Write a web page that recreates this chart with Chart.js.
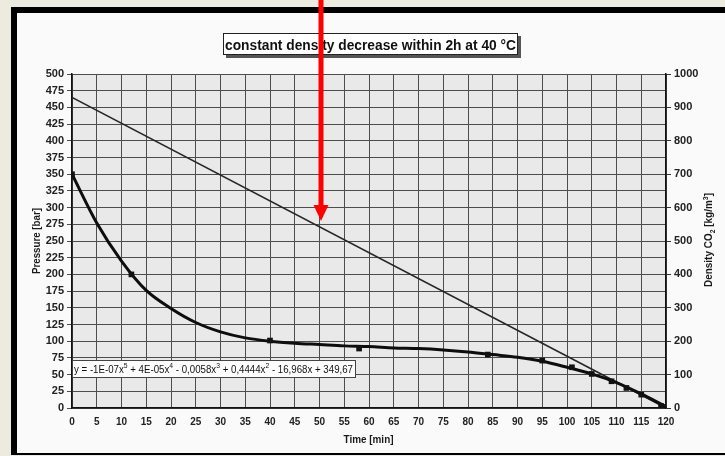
<!DOCTYPE html>
<html>
<head>
  <title>constant density decrease within 2h at 40 °C</title>
  <script src="https://cdn.jsdelivr.net/npm/chart.js@4"></script>
  <style>
    html, body { margin: 0; padding: 0; background: #edeae0; }
    #wrap { position: relative; width: 725px; height: 456px; }
  </style>
</head>
<body>
  <div id="wrap"><canvas id="chart" width="725" height="456"></canvas></div>
  <script>
    // trend line (pressure, bar) every 5 min
    var trendMinutes = [0, 5, 10, 15, 20, 25, 30, 35, 40, 45, 50, 55, 60, 65, 70, 75, 80, 85, 90, 95, 100, 105, 110, 115, 120];
    var trendPressure = [350, 277, 220, 176, 149, 128, 114, 105, 100, 97, 95, 93, 92, 90, 89, 87, 84, 80, 76, 70, 61, 51, 38, 21, 2];

    // measured points (black squares)
    var pointMinutes = [0, 12, 40, 58, 84, 95, 101, 105, 109, 112, 115, 119, 120];
    var pointPressure = [350, 200, 101, 89, 80, 71, 61, 51, 40, 30, 20, 3, 1];

    // CO2 density, straight line
    var densityMinutes = [0, 120];
    var densityValues = [930, 0];

    var FONT = '"Liberation Sans", Arial, sans-serif';

    function pairs(xs, ys) {
      return xs.map(function (x, i) { return { x: x, y: ys[i] }; });
    }

    // draw text made of pieces (normal / sub / sup), squeezed to a width
    function richText(ctx, parts, size, bold, x, y, width, align) {
      var w = 0;
      parts.forEach(function (p) {
        var s = p.t ? size : size * 0.7;
        ctx.font = (bold ? 'bold ' : '') + s + 'px ' + FONT;
        p.w = ctx.measureText(p.s).width;
        w += p.w;
      });
      var k = width ? width / w : 1;
      var start = align === 'center' ? x - w * k / 2 : x;
      ctx.save();
      ctx.translate(start, y);
      ctx.scale(k, 1);
      ctx.textAlign = 'left';
      ctx.textBaseline = 'alphabetic';
      var cx = 0;
      parts.forEach(function (p) {
        var s = p.t ? size : size * 0.7;
        ctx.font = (bold ? 'bold ' : '') + s + 'px ' + FONT;
        var dy = p.t ? 0 : (p.sup ? -size * 0.45 : size * 0.25);
        ctx.fillText(p.s, cx, dy);
        cx += p.w;
      });
      ctx.restore();
    }

    var decor = {
      id: 'decor',
      beforeDraw: function (chart) {
        var ctx = chart.ctx, a = chart.chartArea;
        ctx.save();
        ctx.fillStyle = '#edeae0';
        ctx.fillRect(0, 0, 725, 456);
        ctx.fillStyle = '#000';
        ctx.fillRect(11, 7, 714, 448);
        ctx.fillStyle = '#fafafa';
        ctx.fillRect(17, 13, 708, 440);
        ctx.fillStyle = '#e9e9e9';
        ctx.fillRect(a.left, a.top, a.right - a.left, a.bottom - a.top);
        ctx.restore();
      },
      afterDraw: function (chart) {
        var ctx = chart.ctx;
        ctx.save();

        // title box with shadow
        ctx.fillStyle = '#555';
        ctx.fillRect(226, 36, 295, 22);
        ctx.fillStyle = '#fff';
        ctx.fillRect(223, 33, 295, 22);
        ctx.strokeStyle = '#222';
        ctx.lineWidth = 1;
        ctx.strokeRect(223.5, 33.5, 294, 21);
        ctx.fillStyle = '#111';
        richText(ctx, [{ s: 'constant density decrease within 2h at 40 °C', t: 1 }], 14.5, true, 370.5, 49.5, 291, 'center');

        // equation box
        ctx.fillStyle = '#fdfdfd';
        ctx.fillRect(72, 360, 284, 18);
        ctx.strokeStyle = '#444';
        ctx.strokeRect(72.5, 360.5, 283, 17);
        ctx.fillStyle = '#111';
        richText(ctx, [
          { s: 'y = -1E-07x', t: 1 }, { s: '5', sup: 1 },
          { s: ' + 4E-05x', t: 1 }, { s: '4', sup: 1 },
          { s: ' - 0,0058x', t: 1 }, { s: '3', sup: 1 },
          { s: ' + 0,4444x', t: 1 }, { s: '2', sup: 1 },
          { s: ' - 16,968x + 349,67', t: 1 }
        ], 10.5, false, 74, 373, 279, 'left');

        // axis titles
        ctx.fillStyle = '#1a1a1a';
        richText(ctx, [{ s: 'Time [min]', t: 1 }], 10, true, 368.5, 443, 50, 'center');
        ctx.save();
        ctx.translate(40, 241);
        ctx.rotate(-Math.PI / 2);
        richText(ctx, [{ s: 'Pressure [bar]', t: 1 }], 10, true, 0, 0, 66, 'center');
        ctx.restore();
        ctx.save();
        ctx.translate(712, 240);
        ctx.rotate(-Math.PI / 2);
        richText(ctx, [
          { s: 'Density CO', t: 1 }, { s: '2' },
          { s: ' [kg/m', t: 1 }, { s: '3', sup: 1 }, { s: ']', t: 1 }
        ], 10, true, 0, 0, 94, 'center');
        ctx.restore();

        // red arrow
        ctx.strokeStyle = '#ff0000';
        ctx.fillStyle = '#ff0000';
        ctx.lineWidth = 5;
        ctx.beginPath();
        ctx.moveTo(321, 0);
        ctx.lineTo(321, 207);
        ctx.stroke();
        ctx.beginPath();
        ctx.moveTo(313.5, 205);
        ctx.lineTo(328.5, 205);
        ctx.lineTo(321, 221);
        ctx.closePath();
        ctx.fill();
        ctx.restore();
      }
    };

    var tickFont = { family: FONT, size: 11, weight: 'bold' };
    var plain = function (v) { return String(v); };

    new Chart(document.getElementById('chart'), {
      type: 'scatter',
      data: {
        datasets: [
          {
            label: 'trend',
            data: pairs(trendMinutes, trendPressure),
            showLine: true,
            borderColor: '#0d0d0d',
            borderWidth: 3,
            pointRadius: 0,
            cubicInterpolationMode: 'monotone',
            order: 2,
            yAxisID: 'y'
          },
          {
            label: 'pressure',
            data: pairs(pointMinutes, pointPressure),
            showLine: false,
            pointStyle: 'rect',
            pointRadius: 4,
            backgroundColor: '#111',
            borderColor: '#111',
            borderWidth: 0,
            order: 1,
            yAxisID: 'y'
          },
          {
            label: 'density',
            data: pairs(densityMinutes, densityValues),
            showLine: true,
            borderColor: '#262626',
            borderWidth: 1.6,
            pointRadius: 0,
            order: 3,
            yAxisID: 'y2'
          }
        ]
      },
      options: {
        responsive: false,
        animation: false,
        layout: { padding: { top: 74, left: 0, right: 0, bottom: 0 } },
        plugins: {
          legend: { display: false },
          title: { display: false },
          tooltip: { enabled: false }
        },
        scales: {
          x: {
            type: 'linear',
            min: 0,
            max: 120,
            ticks: { stepSize: 5, color: '#222', font: { family: FONT, size: 10, weight: 'bold' }, padding: 8, callback: plain },
            grid: { color: '#4d4d4d', lineWidth: 1, drawTicks: false },
            border: { color: '#111', width: 1.5 },
            afterFit: function (s) { s.height = 48; }
          },
          y: {
            position: 'left',
            min: 0,
            max: 500,
            ticks: { stepSize: 25, color: '#222', font: tickFont, padding: 3, callback: plain },
            grid: { color: '#4d4d4d', lineWidth: 1, tickLength: 5 },
            border: { color: '#111', width: 1.5 },
            afterFit: function (s) { s.width = 72; }
          },
          y2: {
            position: 'right',
            min: 0,
            max: 1000,
            ticks: { stepSize: 100, color: '#222', font: tickFont, padding: 3, callback: plain },
            grid: { drawOnChartArea: false, color: '#333', tickLength: 5 },
            border: { color: '#111', width: 1.5 },
            afterFit: function (s) { s.width = 59; }
          }
        }
      },
      plugins: [decor]
    });
  </script>
</body>
</html>
